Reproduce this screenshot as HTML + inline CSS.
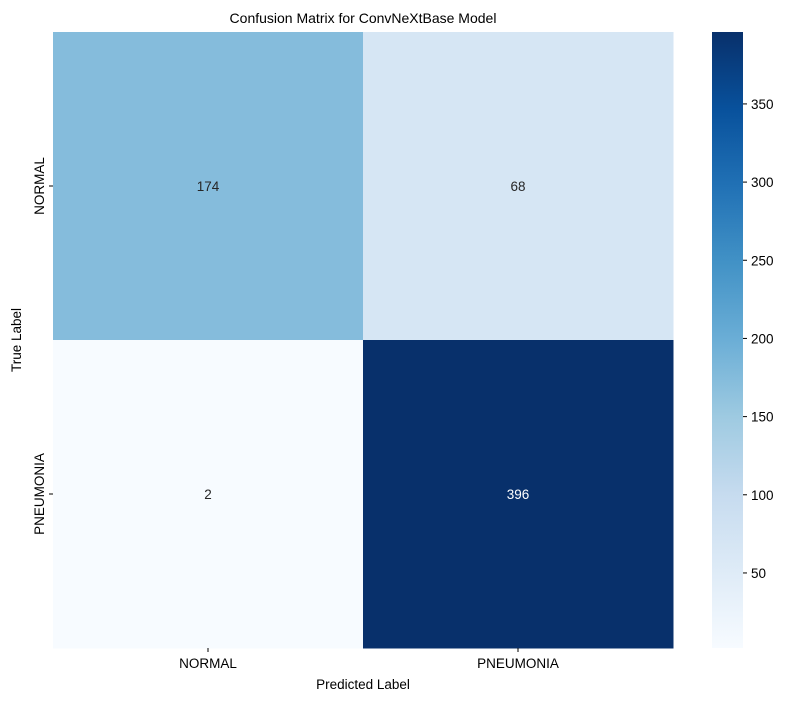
<!DOCTYPE html>
<html><head><meta charset="utf-8"><style>
body{margin:0;background:#fff;}
svg text{font-family:"Liberation Sans","DejaVu Sans",sans-serif;}
</style></head><body>
<svg id="chart" width="788" height="701" xmlns="http://www.w3.org/2000/svg">
<defs><linearGradient id="cbgrad" x1="0" y1="1" x2="0" y2="0">
<stop offset="0" stop-color="#f7fbff"/><stop offset="0.125" stop-color="#deebf7"/><stop offset="0.25" stop-color="#c6dbef"/><stop offset="0.375" stop-color="#9ecae1"/><stop offset="0.5" stop-color="#6baed6"/><stop offset="0.625" stop-color="#4292c6"/><stop offset="0.75" stop-color="#2171b5"/><stop offset="0.875" stop-color="#08519c"/><stop offset="1" stop-color="#08306b"/>
</linearGradient></defs>
<text x="363" y="23" font-size="14" text-anchor="middle" fill="#000">Confusion Matrix for ConvNeXtBase Model</text>
<g id="cells"></g>
<g id="xticks"></g><g id="yticks"></g>
<text x="363" y="689" font-size="13.5" text-anchor="middle">Predicted Label</text>
<text transform="translate(21,340) rotate(-90)" font-size="13.5" text-anchor="middle">True Label</text>
<rect x="712" y="32" width="31" height="616" fill="url(#cbgrad)"/>
<g id="cbticks"></g>
</svg>
<script>
const categories=["NORMAL","PNEUMONIA"];
const row0=[174,68];
const row1=[2,396];
const matrix=[row0,row1];
const cbTicks=[50,100,150,200,250,300,350];
const vmin=2, vmax=396;
const L=53,T=32,W=620,H=616;
const stops=["#f7fbff","#deebf7","#c6dbef","#9ecae1","#6baed6","#4292c6","#2171b5","#08519c","#08306b"];
function hex(c){return [1,3,5].map(i=>parseInt(c.substr(i,2),16));}
function color(v){let t=(v-vmin)/(vmax-vmin);t=Math.max(0,Math.min(1,t));const p=t*8,i=Math.min(7,Math.floor(p)),f=p-i;const a=hex(stops[i]),b=hex(stops[i+1]);return "rgb("+a.map((x,k)=>Math.round(x+(b[k]-x)*f)).join(",")+")";}
const ns="http://www.w3.org/2000/svg";
const cw=W/categories.length,ch=H/categories.length;
function xs(j){return L+j*cw;} function ys(i){return T+i*ch;}
function cbY(v){return T+H-(v-vmin)/(vmax-vmin)*H;}
const cells=document.getElementById('cells');
matrix.forEach((row,i)=>row.forEach((v,j)=>{
const r=document.createElementNS(ns,'rect');
r.setAttribute('x',xs(j));r.setAttribute('y',ys(i));r.setAttribute('width',cw+0.5);r.setAttribute('height',ch+0.5);r.setAttribute('fill',color(v));


cells.appendChild(r);
const t=document.createElementNS(ns,'text');
t.setAttribute('x',xs(j)+cw/2);t.setAttribute('y',ys(i)+ch/2+5);t.setAttribute('font-size','13.5');t.setAttribute('text-anchor','middle');
t.setAttribute('fill',(v-vmin)/(vmax-vmin)>0.6?'#fff':'#262626');t.textContent=v;


cells.appendChild(t);
}));
const xt=document.getElementById('xticks'),yt=document.getElementById('yticks');
categories.forEach((c,j)=>{
const x=xs(j)+cw/2;
const l=document.createElementNS(ns,'line');l.setAttribute('x1',x);l.setAttribute('x2',x);l.setAttribute('y1',T+H);l.setAttribute('y2',T+H+4);l.setAttribute('stroke','#000');xt.appendChild(l);
const t=document.createElementNS(ns,'text');t.setAttribute('x',x);t.setAttribute('y',T+H+20);t.setAttribute('font-size','13.5');t.setAttribute('text-anchor','middle');t.textContent=c;


xt.appendChild(t);
const y=ys(j)+ch/2;
const l2=document.createElementNS(ns,'line');l2.setAttribute('x1',L-4);l2.setAttribute('x2',L);l2.setAttribute('y1',y);l2.setAttribute('y2',y);l2.setAttribute('stroke','#000');yt.appendChild(l2);
const t2=document.createElementNS(ns,'text');t2.setAttribute('transform','translate('+(L-9)+','+y+') rotate(-90)');t2.setAttribute('font-size','13.5');t2.setAttribute('text-anchor','middle');t2.textContent=c;


yt.appendChild(t2);
});
const cb=document.getElementById('cbticks');
cbTicks.forEach(v=>{
const y=cbY(v);
const l=document.createElementNS(ns,'line');l.setAttribute('x1',743);l.setAttribute('x2',747);l.setAttribute('y1',y);l.setAttribute('y2',y);l.setAttribute('stroke','#000');cb.appendChild(l);
const t=document.createElementNS(ns,'text');t.setAttribute('x',751);t.setAttribute('y',y+5);t.setAttribute('font-size','13.5');t.textContent=v;


cb.appendChild(t);
});
</script>
</body></html>
